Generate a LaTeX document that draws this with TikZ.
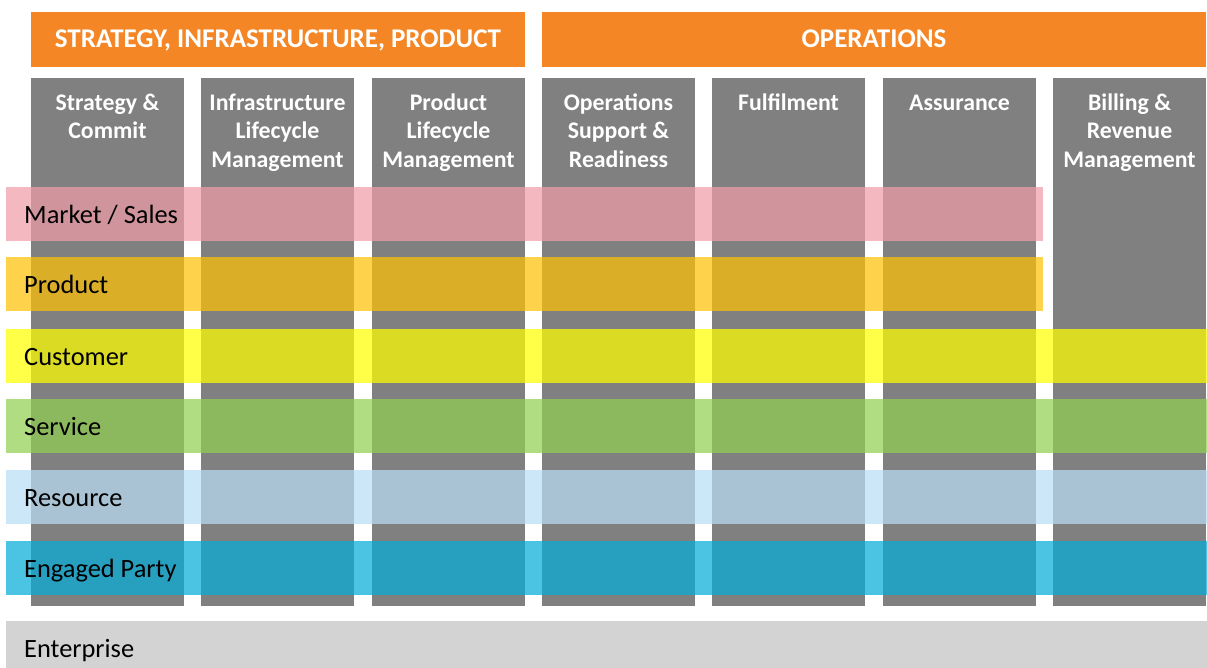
\documentclass[tikz,border=0pt]{standalone}
\usepackage{fontspec}
\setmainfont{Carlito}
\definecolor{orng}{RGB}{244,134,38}
\definecolor{colgrey}{RGB}{128,128,128}
\definecolor{cmarket}{RGB}{240,157,168}
\definecolor{cproduct}{RGB}{255,192,6}
\definecolor{ccustomer}{RGB}{255,255,0}
\definecolor{cservice}{RGB}{146,208,80}
\definecolor{cresource}{RGB}{185,222,245}
\definecolor{cengaged}{RGB}{6,173,218}
\definecolor{centerprise}{RGB}{211,211,211}
\begin{document}
\begin{tikzpicture}[x=1pt,y=-1pt,
  box/.style={inner sep=0pt, outer sep=0pt, anchor=north west, draw=none},
  hdr/.style={box, fill=orng, minimum height=55pt},
  hdrtxt/.style={anchor=base, inner sep=0pt, text=white,
    font=\fontsize{27}{30}\selectfont\bfseries},
  col/.style={box, fill=colgrey, minimum width=153pt, minimum height=528pt},
  coltxt/.style={anchor=north, align=center, text=white, inner sep=0pt,
    font=\fontsize{23.8}{28.5}\selectfont\bfseries},
  band/.style={box, minimum height=54pt, fill opacity=0.72},
  bandtxt/.style={anchor=base west, inner sep=0pt, text=black,
    font=\fontsize{26.4}{30}\selectfont}
]
\useasboundingbox (0,0) rectangle (1207,668);

% headers
\node[hdr, minimum width=494pt] (h1) at (31,12) {};
\node[hdr, minimum width=664pt] (h2) at (542,12) {};
\node[hdrtxt] (ht1) at (278,48) {STRATEGY, INFRASTRUCTURE, PRODUCT};
\node[hdrtxt] (ht2) at (874,48) {OPERATIONS};

% columns
\node[col] (c1) at (31,78) {};
\node[col] (c2) at (201,78) {};
\node[col] (c3) at (372,78) {};
\node[col] (c4) at (542,78) {};
\node[col] (c5) at (712,78) {};
\node[col] (c6) at (883,78) {};
\node[col] (c7) at (1053,78) {};

\node[coltxt] (t1) at ([yshift=-12pt]c1.north) {\strut Strategy \&\\Commit};
\node[coltxt] (t2) at ([yshift=-12pt]c2.north) {\strut Infrastructure\\Lifecycle\\Management};
\node[coltxt] (t3) at ([yshift=-12pt]c3.north) {\strut Product\\Lifecycle\\Management};
\node[coltxt] (t4) at ([yshift=-12pt]c4.north) {\strut Operations\\Support \&\\Readiness};
\node[coltxt] (t5) at ([yshift=-12pt]c5.north) {\strut Fulfilment};
\node[coltxt] (t6) at ([yshift=-12pt]c6.north) {\strut Assurance};
\node[coltxt] (t7) at ([yshift=-12pt]c7.north) {\strut Billing \&\\Revenue\\Management};

% bands
\node[band, fill=cmarket, minimum width=1037pt] (b1) at (6,187) {};
\node[band, fill=cproduct, minimum width=1037pt] (b2) at (6,257) {};
\node[band, fill=ccustomer, minimum width=1201pt] (b3) at (6,329) {};
\node[band, fill=cservice, minimum width=1201pt] (b4) at (6,399) {};
\node[band, fill=cresource, minimum width=1201pt] (b5) at (6,470) {};
\node[band, fill=cengaged, minimum width=1201pt] (b6) at (6,541) {};
\node[box, fill=centerprise, minimum width=1201pt, minimum height=47pt] (b7) at (6,621) {};

\node[bandtxt] (l1) at (24,223.5) {Market / Sales};
\node[bandtxt] (l2) at (24,293.5) {Product};
\node[bandtxt] (l3) at (24,365.5) {Customer};
\node[bandtxt] (l4) at (24,435.5) {Service};
\node[bandtxt] (l5) at (24,506.5) {Resource};
\node[bandtxt] (l6) at (24,577.5) {Engaged Party};
\node[bandtxt] (l7) at (24,657.5) {Enterprise};
\end{tikzpicture}
\end{document}
